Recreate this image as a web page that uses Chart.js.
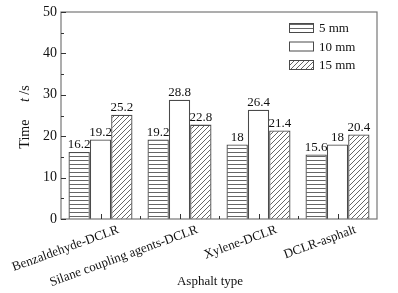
<!DOCTYPE html>
<html>
<head>
<meta charset="utf-8">
<script src="https://cdn.jsdelivr.net/npm/chart.js@4.4.0/dist/chart.umd.min.js"></script>
<style>
  html, body { margin: 0; padding: 0; background: #fff; }
  #wrap { width: 398px; height: 293px; }
</style>
</head>
<body>
<div id="wrap"><canvas id="grafica"></canvas></div>
<script>
var categorias = ["Benzaldehyde-DCLR", "Silane coupling agents-DCLR", "Xylene-DCLR", "DCLR-asphalt"];
var serie5 = [16.2, 19.2, 18, 15.6];
var serie10 = [19.2, 28.8, 26.4, 18];
var serie15 = [25.2, 22.8, 21.4, 20.4];
var nombres = ["5 mm", "10 mm", "15 mm"];
var ticksY = [0, 10, 20, 30, 40, 50];

var fuente = "'Liberation Serif', 'Times New Roman', serif";
var borde = "#4a4a4a";

function patronHorizontal() {
  var c = document.createElement("canvas");
  c.width = 4; c.height = 4;
  var g = c.getContext("2d");
  g.fillStyle = "#fff";
  g.fillRect(0, 0, 4, 4);
  g.fillStyle = "#666";
  g.fillRect(0, 0, 4, 1);
  return g.createPattern(c, "repeat");
}

function patronDiagonal() {
  var c = document.createElement("canvas");
  c.width = 5; c.height = 5;
  var g = c.getContext("2d");
  g.fillStyle = "#fff";
  g.fillRect(0, 0, 5, 5);
  g.strokeStyle = "#555";
  g.lineWidth = 0.9;
  g.beginPath();
  g.moveTo(-1, 6); g.lineTo(6, -1);
  g.moveTo(-1, 1); g.lineTo(1, -1);
  g.moveTo(4, 6); g.lineTo(6, 4);
  g.stroke();
  return g.createPattern(c, "repeat");
}

// marco, ticks interiores, etiquetas, leyenda y titulos
var extras = {
  id: "extras",
  afterDatasetsDraw: function(chart) {
    var ctx = chart.ctx;
    var a = chart.chartArea;
    var ys = chart.scales.y;
    var xs = chart.scales.x;
    ctx.save();
    ctx.strokeStyle = "#777";
    ctx.lineWidth = 1.2;
    ctx.strokeRect(a.left, a.top, a.right - a.left, a.bottom - a.top);

    ctx.strokeStyle = "#333";
    ctx.lineWidth = 1;
    for (var v = 0; v <= 50; v += 5) {
      var py = Math.round(ys.getPixelForValue(v)) + 0.5;
      var largo = (v % 10 === 0) ? 5 : 3;
      ctx.beginPath();
      ctx.moveTo(a.left, py);
      ctx.lineTo(a.left + largo, py);
      ctx.stroke();
    }
    var n = categorias.length;
    for (var i = 0; i < n; i++) {
      var cx = Math.round(xs.getPixelForValue(i)) + 0.5;
      ctx.beginPath();
      ctx.moveTo(cx, a.bottom);
      ctx.lineTo(cx, a.bottom - 5);
      ctx.stroke();
      if (i > 0) {
        var bx = Math.round((xs.getPixelForValue(i - 1) + xs.getPixelForValue(i)) / 2) + 0.5;
        ctx.beginPath();
        ctx.moveTo(bx, a.bottom);
        ctx.lineTo(bx, a.bottom - 3);
        ctx.stroke();
      }
    }

    // valores encima de las barras
    ctx.fillStyle = "#111";
    ctx.font = "13px " + fuente;
    ctx.textAlign = "center";
    ctx.textBaseline = "bottom";
    chart.data.datasets.forEach(function(ds, k) {
      var meta = chart.getDatasetMeta(k);
      meta.data.forEach(function(bar, j) {
        ctx.fillText(String(ds.data[j]), bar.x, bar.y - 0.5);
      });
    });

    // leyenda
    ctx.textAlign = "left";
    ctx.textBaseline = "middle";
    chart.data.datasets.forEach(function(ds, k) {
      var ly = 28 + k * 18.5;
      ctx.fillStyle = ds.backgroundColor;
      ctx.fillRect(289, ly - 4, 24, 8);
      ctx.strokeStyle = borde;
      ctx.lineWidth = 1;
      ctx.strokeRect(289.5, ly - 4.5, 24, 9);
      ctx.fillStyle = "#111";
      ctx.fillText(ds.label, 319, ly + 1);
    });

    // titulo eje X
    ctx.textAlign = "center";
    ctx.font = "13px " + fuente;
    ctx.fillText("Asphalt type", 210, 282);

    // titulo eje Y
    ctx.translate(25, 117);
    ctx.rotate(-Math.PI / 2);
    ctx.textBaseline = "middle";
    ctx.textAlign = "left";
    ctx.font = "14px " + fuente;
    var t1 = "Time";
    var esp = "     ";
    var wT = ctx.measureText(t1 + esp).width;
    ctx.font = "italic 14px " + fuente;
    var wt = ctx.measureText("t").width;
    ctx.font = "14px " + fuente;
    var ws = ctx.measureText(" /s").width;
    var x0 = -(wT + wt + ws) / 2;
    ctx.fillStyle = "#111";
    ctx.fillText(t1 + esp, x0, 0);
    ctx.font = "italic 14px " + fuente;
    ctx.fillText("t", x0 + wT, 0);
    ctx.font = "14px " + fuente;
    ctx.fillText(" /s", x0 + wT + wt, 0);
    ctx.restore();
  }
};

var ctx = document.getElementById("grafica");

var grafica = new Chart(ctx, {
  type: "bar",
  data: {
    labels: categorias,
    datasets: [
      { label: nombres[0], data: serie5, backgroundColor: patronHorizontal(), borderColor: borde, borderWidth: 1.3 },
      { label: nombres[1], data: serie10, backgroundColor: "#ffffff", borderColor: borde, borderWidth: 1.3 },
      { label: nombres[2], data: serie15, backgroundColor: patronDiagonal(), borderColor: borde, borderWidth: 1.3 }
    ]
  },
  options: {
    responsive: true,
    maintainAspectRatio: false,
    animation: false,
    layout: { padding: { top: 12, right: 21, left: 0, bottom: 0 } },
    datasets: { bar: { categoryPercentage: 0.81, barPercentage: 1 } },
    plugins: {
      legend: { display: false },
      tooltip: { enabled: false }
    },
    scales: {
      x: {
        grid: { display: false, drawTicks: false, tickLength: 0 },
        border: { display: false },
        ticks: {
          color: "#111",
          font: { family: fuente, size: 13 },
          minRotation: 20,
          maxRotation: 20,
          labelOffset: 18,
          padding: 3
        },
        afterFit: function(s) {
          s.height = 74;
          s.paddingLeft = 0;
          s.paddingRight = 0;
        }
      },
      y: {
        min: 0,
        max: 50,
        afterBuildTicks: function(s) {
          s.ticks = ticksY.map(function(v) { return { value: v }; });
        },
        grid: { display: false, drawTicks: false, tickLength: 0 },
        border: { display: false },
        ticks: {
          color: "#111",
          font: { family: fuente, size: 14 },
          padding: 4
        },
        afterFit: function(s) {
          s.width = 61;
          s.paddingTop = 0;
          s.paddingBottom = 0;
        }
      }
    }
  },
  plugins: [extras]
});
</script>
</body>
</html>
